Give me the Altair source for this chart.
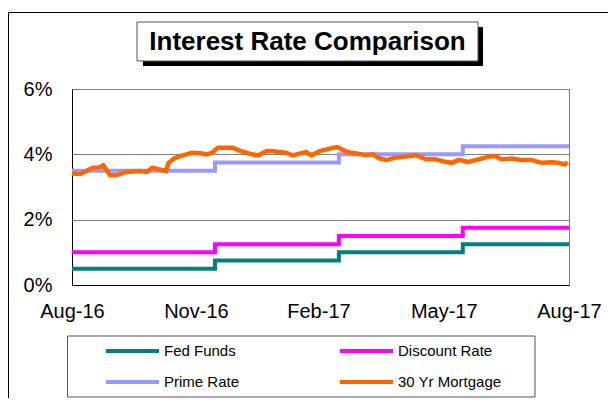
import altair as alt
import pandas as pd

# ---- data ----
series_names = ["Fed Funds", "Discount Rate", "Prime Rate", "30 Yr Mortgage"]
series_colors = ["#008080", "#FF00FF", "#9999FF", "#FF6600"]

step_dates = ["2016-08-31", "2016-12-14", "2017-03-15", "2017-06-14", "2017-08-31"]
fed_funds = [0.50, 0.75, 1.00, 1.25, 1.25]
discount_rate = [1.00, 1.25, 1.50, 1.75, 1.75]
prime_rate = [3.50, 3.75, 4.00, 4.25, 4.25]

mortgage_dates = [
    "2016-08-31", "2016-09-06", "2016-09-11", "2016-09-15", "2016-09-20", "2016-09-23",
    "2016-09-28", "2016-10-03", "2016-10-10", "2016-10-20", "2016-10-25", "2016-10-29",
    "2016-11-03", "2016-11-08", "2016-11-10", "2016-11-14", "2016-11-18", "2016-11-23",
    "2016-11-27", "2016-12-03", "2016-12-08", "2016-12-12", "2016-12-16", "2016-12-22",
    "2016-12-27", "2016-12-30", "2017-01-02", "2017-01-06", "2017-01-10", "2017-01-15",
    "2017-01-21", "2017-01-25", "2017-01-30", "2017-02-04", "2017-02-09", "2017-02-14",
    "2017-02-19", "2017-02-23", "2017-03-01", "2017-03-06", "2017-03-11", "2017-03-14",
    "2017-03-21", "2017-03-28", "2017-04-04", "2017-04-09", "2017-04-14", "2017-04-19",
    "2017-04-26", "2017-05-03", "2017-05-11", "2017-05-18", "2017-05-25", "2017-06-01",
    "2017-06-06", "2017-06-11", "2017-06-18", "2017-06-26", "2017-07-03", "2017-07-08",
    "2017-07-12", "2017-07-20", "2017-07-27", "2017-08-03", "2017-08-11", "2017-08-18",
    "2017-08-23", "2017-08-28", "2017-08-30",
]
mortgage_rates = [
    3.41, 3.40, 3.50, 3.58, 3.60, 3.66,
    3.36, 3.37, 3.46, 3.49, 3.46, 3.59,
    3.54, 3.49, 3.74, 3.87, 3.94, 4.00,
    4.05, 4.03, 4.00, 4.05, 4.20, 4.20,
    4.20, 4.15, 4.10, 4.05, 4.00, 3.97,
    4.10, 4.10, 4.07, 4.05, 3.97, 4.02,
    4.07, 3.97, 4.10, 4.15, 4.20, 4.22,
    4.07, 4.03, 3.97, 4.00, 3.87, 3.83,
    3.90, 3.93, 3.97, 3.85, 3.85, 3.77,
    3.74, 3.83, 3.77, 3.85, 3.93, 3.95,
    3.85, 3.87, 3.83, 3.83, 3.74, 3.76,
    3.74, 3.69, 3.76,
]

tick_dates = [(2016, 8, 31), (2016, 11, 30), (2017, 2, 28), (2017, 5, 31), (2017, 8, 31)]
y_ticks = [0, 2, 4, 6]
title_text = "Interest Rate Comparison"

# ---- tables ----
steps = pd.concat([
    pd.DataFrame({"date": step_dates, "rate": vals, "series": name})
    for name, vals in zip(series_names[:3], [fed_funds, discount_rate, prime_rate])
])
mort = pd.DataFrame({"date": mortgage_dates, "rate": mortgage_rates, "series": series_names[3]})
one = pd.DataFrame({"k": [0]})

# legend layout: 2 columns, row-major
leg = pd.DataFrame({"series": series_names})
leg["col"] = [i % 2 for i in range(len(series_names))]
leg["row"] = [i // 2 for i in range(len(series_names))]
leg["x0"] = 34 + leg["col"] * 234
leg["x1"] = leg["x0"] + 53
leg["tx"] = leg["x0"] + 58
leg["y"] = 262 + leg["row"] * 31

dt = lambda t: alt.DateTime(year=t[0], month=t[1], date=t[2], utc=True)

color_scale = alt.Scale(domain=series_names, range=series_colors)

x_enc = alt.X(
    "date:T",
    scale=alt.Scale(type="utc", domain=[dt(tick_dates[0]), dt(tick_dates[-1])]),
    axis=alt.Axis(
        values=[dt(t) for t in tick_dates], format="%b-%y", title=None,
        grid=False, ticks=False, domainColor="black", labelPadding=16,
        labelFontSize=20, labelOverlap=False, labelFlush=False, labelBound=False,
    ),
)
y_enc = alt.Y(
    "rate:Q",
    scale=alt.Scale(domain=[0, 6], nice=False),
    axis=alt.Axis(
        values=y_ticks, labelExpr="datum.value + '%'", title=None,
        grid=True, gridColor="#808080", gridWidth=1, ticks=False,
        domainColor="black", labelPadding=20, labelFontSize=20,
    ),
)
color_enc = alt.Color("series:N", scale=color_scale, legend=None)

step_lines = alt.Chart(steps).mark_line(interpolate="step-after", strokeWidth=4).encode(
    x=x_enc, y=y_enc, color=color_enc, detail="series:N"
)
mort_line = alt.Chart(mort).mark_line(strokeWidth=4.5).encode(
    x=x_enc, y=y_enc, color=color_enc
)

# ---- legend (drawn with marks) ----
leg_lines = alt.Chart(leg).mark_rule(strokeWidth=4).encode(
    x=alt.X("x0:Q", scale=None, axis=None), x2="x1:Q",
    y=alt.Y("y:Q", scale=None, axis=None), color=color_enc
)
leg_text = alt.Chart(leg).mark_text(
    align="left", baseline="middle", font="Liberation Sans", fontSize=15, color="black"
).encode(x=alt.X("tx:Q", scale=None, axis=None), y=alt.Y("y:Q", scale=None, axis=None),
         text="series:N")

# ---- decorations (title box, legend frame, outer border) ----
shadow = alt.Chart(one).mark_rect(fill="black").encode(
    x=alt.value(71), x2=alt.value(411), y=alt.value(-62), y2=alt.value(-23))
tbox = alt.Chart(one).mark_rect(fill="white", stroke="#555555", strokeWidth=1).encode(
    x=alt.value(65), x2=alt.value(406), y=alt.value(-67), y2=alt.value(-28))
ttext = alt.Chart(one).mark_text(
    text=title_text, font="Liberation Sans", fontSize=26, fontWeight="bold",
    align="center", baseline="middle", color="black",
).encode(x=alt.value(235.5), y=alt.value(-47))
lbox = alt.Chart(one).mark_rect(fill="white", stroke="#555555", strokeWidth=1).encode(
    x=alt.value(-4.5), x2=alt.value(463), y=alt.value(247), y2=alt.value(308))
border_top = alt.Chart(one).mark_rule(color="black", strokeWidth=1).encode(
    x=alt.value(-63.5), x2=alt.value(540), y=alt.value(-76.5))
border_left = alt.Chart(one).mark_rule(color="black", strokeWidth=1).encode(
    x=alt.value(-63.5), y=alt.value(-76.5), y2=alt.value(320))

chart = alt.layer(
    border_top, border_left, shadow, tbox, ttext, lbox,
    step_lines, mort_line, leg_lines, leg_text
).properties(
    width=497, height=196,
    autosize=alt.AutoSizeParams(type="none"),
    padding={"left": 64, "top": 81, "right": 39, "bottom": 113},
    background="white",
).configure_view(
    stroke="#808080", strokeWidth=1
).configure_axis(
    labelFont="Liberation Sans", labelColor="black"
)

chart.save("out.html", embed_options={"renderer": "svg", "actions": False})
